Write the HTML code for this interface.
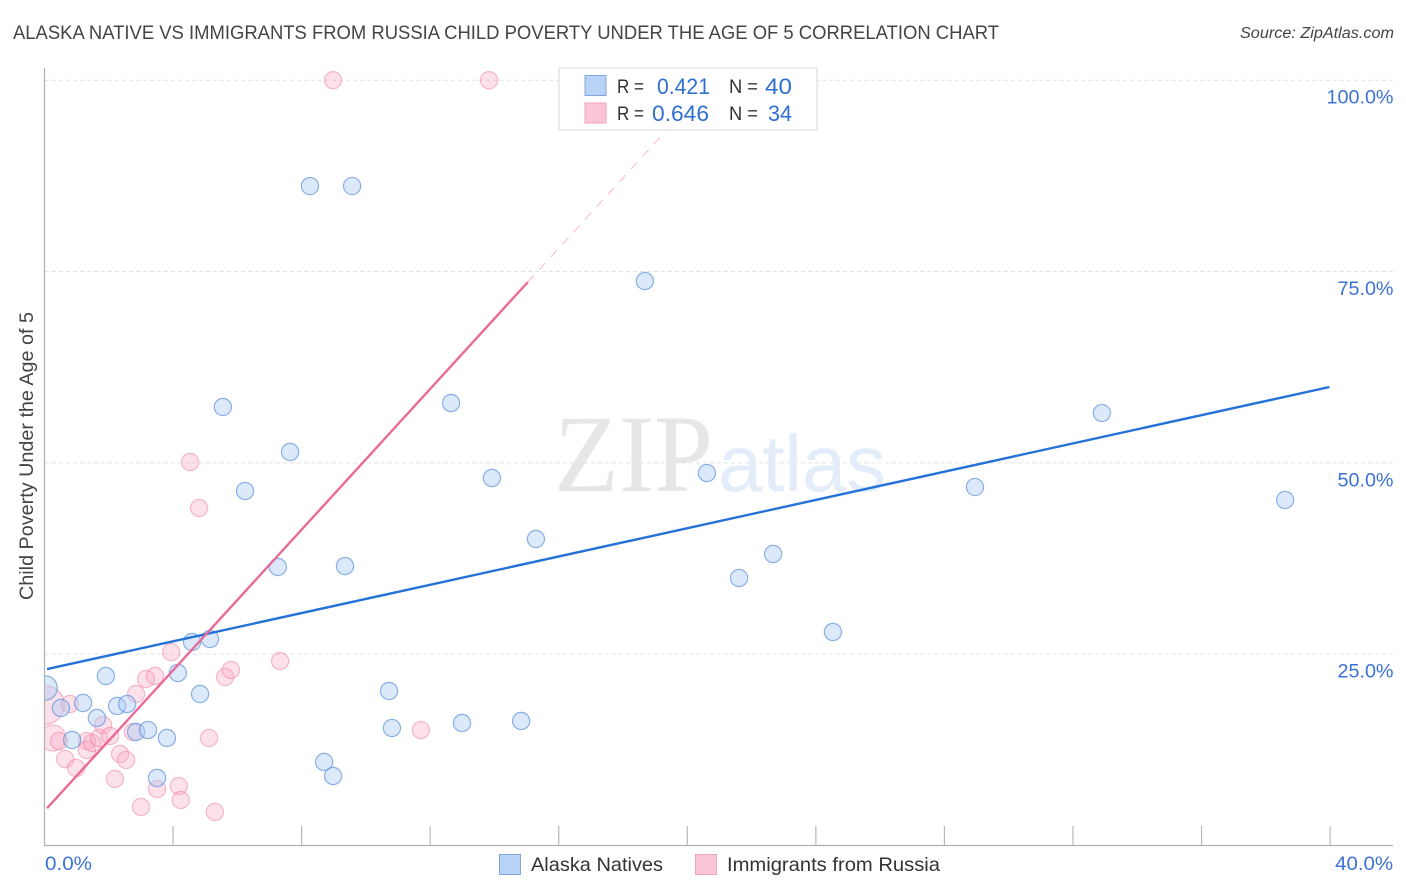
<!DOCTYPE html>
<html lang="en">
<head>
<meta charset="utf-8">
<title>Alaska Native vs Immigrants from Russia Child Poverty Correlation Chart</title>
<style>
html,body{margin:0;padding:0;background:#fff;}
svg{display:block;font-family:"Liberation Sans",sans-serif;}
</style>
</head>
<body>
<svg id="chart" width="1406" height="892" viewBox="0 0 1406 892" xmlns="http://www.w3.org/2000/svg">
  <defs>
    <clipPath id="plot-clip"><rect x="45" y="60" width="1349" height="786"/></clipPath>
  </defs>
  <text x="13" y="39" font-size="19.5" fill="#444" textLength="986" lengthAdjust="spacingAndGlyphs">ALASKA NATIVE VS IMMIGRANTS FROM RUSSIA CHILD POVERTY UNDER THE AGE OF 5 CORRELATION CHART</text>
  <text x="1394" y="38" font-size="15.5" font-style="italic" fill="#444" text-anchor="end" textLength="154" lengthAdjust="spacingAndGlyphs">Source: ZipAtlas.com</text>

  <g id="grid"></g>

  <g>
    <text x="554" y="491" font-family="'Liberation Serif',serif" font-size="110" fill="#e6e6e6" textLength="159" lengthAdjust="spacingAndGlyphs">ZIP</text>
    <text x="718" y="491" font-size="80" fill="#e3edfa" textLength="168" lengthAdjust="spacingAndGlyphs">atlas</text>
  </g>

  <g id="axes"></g>
  <g id="marks" clip-path="url(#plot-clip)"></g>
  <g id="trends"></g>

  <text transform="translate(33 456) rotate(-90)" font-size="19" fill="#444" text-anchor="middle" textLength="288" lengthAdjust="spacingAndGlyphs">Child Poverty Under the Age of 5</text>
  <g id="tick-labels"></g>

  <g>
    <rect x="559" y="68" width="258" height="62" fill="#fff" fill-opacity="0.95" stroke="#e0e0e0" stroke-width="1.2"/>
    <rect x="585" y="75.5" width="21" height="20" fill="#b9d3f6" stroke="#7fa6e0" stroke-width="1"/>
    <rect x="585" y="103" width="21" height="20" fill="#fac6d6" stroke="#f3a3bc" stroke-width="1"/>
    <text x="617" y="93" font-size="19.5" fill="#333" textLength="27" lengthAdjust="spacingAndGlyphs">R =</text>
    <text x="657" y="94" font-size="22" fill="#2f6fd0" textLength="53" lengthAdjust="spacingAndGlyphs">0.421</text>
    <text x="729" y="93" font-size="19.5" fill="#333" textLength="29" lengthAdjust="spacingAndGlyphs">N =</text>
    <text x="765" y="94" font-size="22" fill="#2f6fd0" textLength="27" lengthAdjust="spacingAndGlyphs">40</text>
    <text x="617" y="120" font-size="19.5" fill="#333" textLength="27" lengthAdjust="spacingAndGlyphs">R =</text>
    <text x="652" y="121" font-size="22" fill="#2f6fd0" textLength="57" lengthAdjust="spacingAndGlyphs">0.646</text>
    <text x="729" y="120" font-size="19.5" fill="#333" textLength="29" lengthAdjust="spacingAndGlyphs">N =</text>
    <text x="768" y="121" font-size="22" fill="#2f6fd0" textLength="24" lengthAdjust="spacingAndGlyphs">34</text>
  </g>

  <g>
    <rect x="499.5" y="854.5" width="21" height="20" fill="#b9d3f6" stroke="#7fa6e0" stroke-width="1"/>
    <text x="531" y="871" font-size="19.5" fill="#333" textLength="132" lengthAdjust="spacingAndGlyphs">Alaska Natives</text>
    <rect x="695.5" y="854.5" width="21" height="20" fill="#fac6d6" stroke="#f3a3bc" stroke-width="1"/>
    <text x="727" y="871" font-size="19.5" fill="#333" textLength="213" lengthAdjust="spacingAndGlyphs">Immigrants from Russia</text>
  </g>
</svg>

<script>
const yTickValues = [25, 50, 75, 100];
const yTickLabels = ["25.0%", "50.0%", "75.0%", "100.0%"];
const xTickValues = [4, 8, 12, 16, 20, 24, 28, 32, 36, 40];
const xEndValues = [0, 40];
const xEndLabels = ["0.0%", "40.0%"];

const alaskaX = [0.02,0.51,0.86,1.2,1.63,1.91,2.26,2.57,2.85,3.22,3.5,3.81,4.15,4.59,4.84,5.15,5.55,6.24,7.26,7.64,8.26,9.35,9.57,8.7,8.98,10.72,10.81,12.65,12.99,13.92,14.83,15.29,18.68,20.61,21.61,22.67,24.53,28.95,32.9,38.6];
const alaskaY = [20.58,17.97,13.79,18.62,16.66,22.15,18.23,18.49,14.83,15.09,8.82,14.05,22.54,26.59,19.8,26.98,57.3,46.32,36.39,51.42,86.17,36.52,86.17,10.91,9.08,20.19,15.35,57.82,16.01,48.02,16.27,40.05,73.76,48.67,34.95,38.09,27.9,46.84,56.51,45.15];
const alaskaWeight = [2,1,1,1,1,1,1,1,1,1,1,1,1,1,1,1,1,1,1,1,1,1,1,1,1,1,1,1,1,1,1,1,1,1,1,1,1,1,1,1];

const russiaX = [0.02,0.79,0.26,0.45,0.64,0.98,1.32,1.32,1.48,1.7,1.82,2.04,2.19,2.35,2.54,2.85,2.75,3.0,3.16,3.44,3.5,3.94,4.18,4.24,4.53,4.81,5.12,5.3,5.62,5.8,7.33,8.98,11.71,13.83];
const russiaY = [18.36,18.49,14.05,13.65,11.3,10.13,13.65,12.48,13.39,14.05,15.75,14.31,8.69,11.96,11.17,19.8,14.83,5.03,21.76,22.15,7.38,25.28,7.77,5.95,50.11,44.1,14.05,4.38,22.02,22.94,24.1,100,15.09,100];
const russiaWeight = [5,1,2.3,1,1,1,1,1,1,1,1,1,1,1,1,1,1,1,1,1,1,1,1,1,1,1,1,1,1,1,1,1,1,1];

const alaskaTrendX = [0.08, 39.98];
const alaskaTrendY = [23.06, 59.91];
const russiaTrendX = [0.08, 15.04];
const russiaTrendY = [4.87, 73.63];
const russiaExtendX = [15.04, 19.5];
const russiaExtendY = [73.63, 94.13];

const NS = "http://www.w3.org/2000/svg";
function sx(v){ return 44.5 + v * 32.14; }
function sy(v){ return 845.5 - v * 7.653; }
function radius(w){ return 8.6 * Math.sqrt(w); }
function make(tag, attrs, parent){
  const el = document.createElementNS(NS, tag);
  for (const k in attrs) el.setAttribute(k, attrs[k]);
  parent.appendChild(el);
  return el;
}

const grid = document.getElementById("grid");
const axes = document.getElementById("axes");
const labels = document.getElementById("tick-labels");
const marks = document.getElementById("marks");
const trends = document.getElementById("trends");

yTickValues.forEach(function(v, i){
  const line = make("line", {x1:45, x2:1393, y1:sy(v), y2:sy(v), stroke:"#e2e2e2", "stroke-width":1, "stroke-dasharray":"4 3"}, grid);
  
  
  const t = make("text", {x:1393.5, y:sy(v)+23.5, "text-anchor":"end", "font-size":19.5, fill:"#3b72d3"}, labels);
  
  
  t.setAttribute('textLength', i === 3 ? 67 : 56);
  t.setAttribute('lengthAdjust', 'spacingAndGlyphs');
  t.textContent = yTickLabels[i];
});

const yAxisLine = make("line", {x1:44.5, x2:44.5, y1:68, y2:846, stroke:"#b0b0b0", "stroke-width":1.2}, axes);


const xAxisLine = make("line", {x1:44, x2:1393, y1:845.5, y2:845.5, stroke:"#b0b0b0", "stroke-width":1.2}, axes);



xTickValues.forEach(function(v){
  const tick = make("line", {x1:sx(v), x2:sx(v), y1:826, y2:846, stroke:"#b8b8b8", "stroke-width":1.2}, axes);
  
  
});

xEndValues.forEach(function(v, i){
  const t = make("text", {x: i === 0 ? sx(v)+0.5 : sx(v)+63, y:870, "text-anchor": i === 0 ? "start" : "end", "font-size":19.5, fill:"#3b72d3"}, labels);
  
  
  t.setAttribute('textLength', i === 0 ? 47 : 58);
  t.setAttribute('lengthAdjust', 'spacingAndGlyphs');
  t.textContent = xEndLabels[i];
});

russiaX.forEach(function(v, i){
  const c = make("circle", {cx:sx(v), cy:sy(russiaY[i]), r:radius(russiaWeight[i]), fill:"#f8a8c0", "fill-opacity":0.34, stroke:"#ec7c9f", "stroke-opacity":0.5, "stroke-width":1.2}, marks);
  
  
});
alaskaX.forEach(function(v, i){
  const c = make("circle", {cx:sx(v), cy:sy(alaskaY[i]), r:radius(alaskaWeight[i]), fill:"#a9cbf5", "fill-opacity":0.42, stroke:"#5e93db", "stroke-opacity":0.7, "stroke-width":1.2}, marks);
  
  
});

const trendA = make("line", {x1:sx(alaskaTrendX[0]), y1:sy(alaskaTrendY[0]), x2:sx(alaskaTrendX[1]), y2:sy(alaskaTrendY[1]), stroke:"#2471d8", "stroke-width":2.4}, trends);


const trendR = make("line", {x1:sx(russiaTrendX[0]), y1:sy(russiaTrendY[0]), x2:sx(russiaTrendX[1]), y2:sy(russiaTrendY[1]), stroke:"#ea6a98", "stroke-width":2.4}, trends);


const trendX = make("line", {x1:sx(russiaExtendX[0]), y1:sy(russiaExtendY[0]), x2:sx(russiaExtendX[1]), y2:sy(russiaExtendY[1]), stroke:"#f5b8cc", "stroke-width":1, "stroke-dasharray":"9 8"}, trends);


</script>
</body>
</html>
